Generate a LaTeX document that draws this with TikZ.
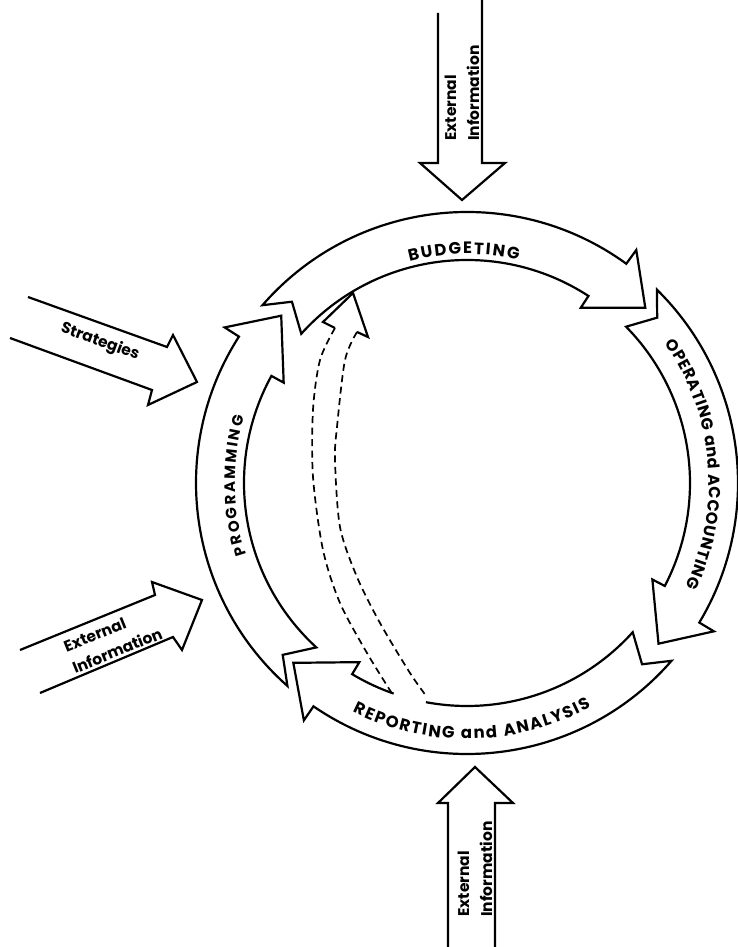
\documentclass[tikz,border=0pt]{standalone}
\usepackage{fontspec}
\setmainfont{Poppins}
\usetikzlibrary{decorations.text}

\newcommand{\bandlabel}[2]{\bfseries\fontsize{#1}{20}\selectfont\kern#2pt}
\tikzstyle{band} = [draw, line width=2.2pt, line join=miter, miter limit=20]
\tikzstyle{feedback} = [line width=1.7pt, dash pattern=on 7pt off 4.5pt]
\tikzstyle{infoarrow} = [draw, line width=2.2pt]
\tikzstyle{infotext} = [font=\bfseries\fontsize{15.5}{23}\selectfont, align=left, inner sep=0pt]
\tikzstyle{bandtext} = [decorate, decoration={text along path, text align=center}]

\begin{document}
\begin{tikzpicture}[x=1pt, y=1pt]
        \useasboundingbox (-467,-464) rectangle (271,483);

        % the four stages round the cycle
        \draw [band] (139:271) arc[start angle=139, end angle=54, radius=271pt] -- (54:288) -- (44.5:250) -- (57:209) -- (57:223) arc[start angle=57, end angle=138, radius=223pt] -- (134:252) -- cycle;
        \draw [band] (45.5:271) arc[start angle=45.5, end angle=-31, radius=271pt] -- (-31:288) -- (-40:250) -- (-27.5:209) -- (-27.5:223) arc[start angle=-27.5, end angle=44.5, radius=223pt] -- (41:252) -- cycle;
        \draw [band] (-109.2:223) arc[start angle=-109.2, end angle=-121, radius=223pt] -- (-121:209) -- (-134:250) -- (-124.5:288) -- (-124.5:271) arc[start angle=-124.5, end angle=-41, radius=271pt] -- (-46:252) -- (-42:223) arc[start angle=-42, end angle=-100.6, radius=223pt];
        \draw [band] (228.5:271) arc[start angle=228.5, end angle=147.3, radius=271pt] -- (147.3:288) -- (138:250) -- (151.3:209) -- (151.3:223) arc[start angle=151.3, end angle=227.5, radius=223pt] -- (223:252) -- cycle;

        \path [bandtext, decoration={text={|\bandlabel{16.5}{1.8}|BUDGETING}}] (136:229) arc[start angle=136, end angle=46, radius=229pt];
        \path [bandtext, decoration={text={|\bandlabel{16}{0.6}|OPERATING and ACCOUNTING}}] (55:242) arc[start angle=55, end angle=-45, radius=242pt];
        \path [bandtext, decoration={text={|\bandlabel{16.5}{1.6}|REPORTING and ANALYSIS}}] (-139:256) arc[start angle=-139, end angle=-39, radius=256pt];
        \path [bandtext, decoration={text={|\bandlabel{15}{2.2}|PROGRAMMING}}] (226:232) arc[start angle=226, end angle=136, radius=232pt];

        % feedback from reporting to budgeting
        \draw [feedback] plot[smooth] coordinates {(-132,155) (-147,123) (-154,73) (-154,6) (-144,-67) (-127,-120) (-100,-170) (-74,-212)};
        \draw [feedback] plot[smooth] coordinates {(-110,151) (-122,123) (-130,56) (-132,23) (-127,-44) (-110,-94) (-87,-140) (-57,-190) (-40,-214)};
        \draw [band] (-132,155) -- (-144,161) -- (-114,190) -- (-99,146) -- (-110,151);

        % inputs from outside
        \draw [infoarrow] (-29,470) -- (-29,320) -- (-47,320) -- (-5,283) -- (38,320) -- (15,320) -- (15,483);
        \node [infotext, rotate=90] (topinfo) at (-5,390) {External\\Information};

        \draw [infoarrow] (-19,-464) -- (-19,-320) -- (-29,-320) -- (8,-284) -- (46,-320) -- (28,-320) -- (28,-464);
        \node [infotext, rotate=90] (bottominfo) at (8,-386) {External\\Information};

        \draw [infoarrow] (-439,186) -- (-300,136) -- (-294,148) -- (-270,101) -- (-319,78) -- (-315,93) -- (-457,145);
        \node [infotext, rotate=-20] (strategies) at (-367,141) {Strategies};

        \draw [infoarrow] (-447,-167) -- (-312,-112) -- (-315,-99) -- (-265,-117) -- (-285,-167) -- (-294,-154) -- (-427,-210);
        \node [infotext, rotate=22] (leftinfo) at (-354,-157) {External\\Information};

    \end{tikzpicture}
\end{document}
